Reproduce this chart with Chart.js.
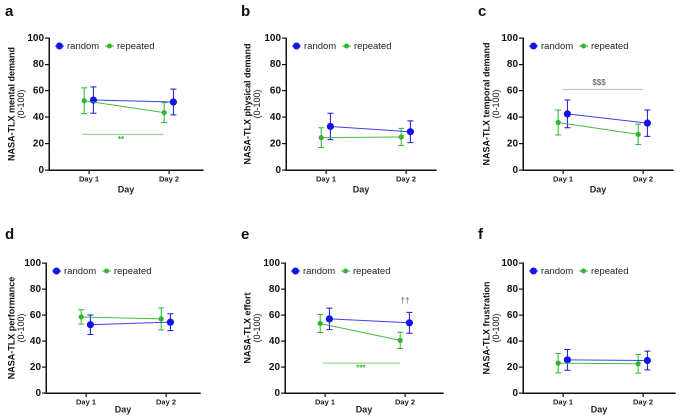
<!DOCTYPE html>
<html>
<head>
<meta charset="utf-8">
<script src="https://cdn.jsdelivr.net/npm/chart.js@4.4.0/dist/chart.umd.min.js"></script>
<style>
  html, body { margin: 0; padding: 0; background: #fff; }
  #wrap { position: relative; width: 685px; height: 420px; overflow: hidden; }
  .panel { position: absolute; }
</style>
</head>
<body>
<div id="wrap"></div>
<script>
// ---- data ----
const days = [1, 2];
const dayLabels = ['Day 1', 'Day 2'];
const groups = ['random', 'repeated'];
const letters = ['a', 'b', 'c', 'd', 'e', 'f'];
const measures = ['NASA-TLX mental demand', 'NASA-TLX physical demand', 'NASA-TLX temporal demand',
  'NASA-TLX performance', 'NASA-TLX effort', 'NASA-TLX frustration'];
const yTicks = [0, 20, 40, 60, 80, 100];

const randomMean = [[53, 51.5], [33, 29], [42.5, 35.5], [52.5, 54.5], [57, 54], [25.5, 25]];
const randomSD = [[10, 9.75], [10, 8.25], [10.5, 10], [7.5, 6.5], [8.25, 8], [8, 7.25]];
const repeatedMean = [[52.5, 43.5], [24.5, 25], [36, 27], [58.5, 57], [53.5, 40.5], [23, 22.5]];
const repeatedSD = [[9.75, 7.5], [7.5, 6.5], [9.5, 7.75], [5.5, 8.5], [7, 6.25], [7.5, 7.25]];

// significance marks: panel, bar span in day units, bar level, label
const sigPanel = [0, 2, 4, 4];
const sigFrom = [0.91, 1.0, 0.97, null];
const sigTo = [1.93, 2.0, 1.94, null];
const sigLevel = [27, 61, 23, null];
const sigText = ['**', '$$$', '***', '\u2020\u2020'];
const sigTextX = [1.4, 1.45, 1.45, 2.0];
const sigTextY = [23, 66, 19, 71];
const sigTone = ['repeated', 'grey', 'repeated', 'grey'];

// ---- look ----
const FONT = '"Liberation Sans", Arial, Helvetica, sans-serif';
const BLUE = '#1414e6';
const GREEN = '#30b530';
const colors = { random: BLUE, repeated: GREEN };
const lineColors = { random: 'rgba(30,30,230,0.85)', repeated: 'rgba(48,181,48,0.9)' };
const toneLine = { repeated: '#93d993', grey: '#c4c4c4' };
const toneText = { repeated: GREEN, grey: '#777' };
const jitter = { random: 0.055, repeated: -0.06 };

const W = 230, H = 210;
const frames = [
  { x: 0,   y: 0,   left: 49, right: 203, top: 38, bottom: 170, dayY: 190, titleX: 12, letterX: 5,  letterY: 16 },
  { x: 228, y: 0,   left: 58, right: 208, top: 38, bottom: 170, dayY: 190, titleX: 20, letterX: 13, letterY: 16 },
  { x: 455, y: 0,   left: 68, right: 218, top: 38, bottom: 170, dayY: 190, titleX: 32, letterX: 23, letterY: 16 },
  { x: 0,   y: 210, left: 46, right: 200, top: 53, bottom: 183, dayY: 200, titleX: 12, letterX: 5,  letterY: 29 },
  { x: 228, y: 210, left: 57, right: 215, top: 53, bottom: 183, dayY: 200, titleX: 20, letterX: 13, letterY: 29 },
  { x: 455, y: 210, left: 68, right: 220, top: 53, bottom: 183, dayY: 200, titleX: 32, letterX: 23, letterY: 29 },
];
const Y_AXIS_W = 26;

function decor(p) {
  return {
    id: 'decor' + p,
    beforeDatasetsDraw(chart) {
      const ctx = chart.ctx;
      const xs = chart.scales.x, ys = chart.scales.y;
      // significance bars
      for (let k = 0; k < sigPanel.length; k++) {
        if (sigPanel[k] !== p) continue;
        ctx.save();
        if (sigFrom[k] !== null) {
          ctx.strokeStyle = toneLine[sigTone[k]];
          ctx.lineWidth = 1.2;
          ctx.beginPath();
          const yy = ys.getPixelForValue(sigLevel[k]);
          ctx.moveTo(xs.getPixelForValue(sigFrom[k]), yy);
          ctx.lineTo(xs.getPixelForValue(sigTo[k]), yy);
          ctx.stroke();
        }
        ctx.fillStyle = toneText[sigTone[k]];
        ctx.font = 'bold 8px ' + FONT;
        ctx.textAlign = 'center';
        ctx.textBaseline = 'middle';
        ctx.fillText(sigText[k], xs.getPixelForValue(sigTextX[k]), ys.getPixelForValue(sigTextY[k]));
        ctx.restore();
      }
      // error bars
      const sets = [[randomMean, randomSD, 'random'], [repeatedMean, repeatedSD, 'repeated']];
      sets.forEach(([means, sds, g]) => {
        ctx.save();
        ctx.strokeStyle = colors[g];
        ctx.lineWidth = 1;
        days.forEach((d, j) => {
          const x = xs.getPixelForValue(d + jitter[g]);
          const lo = ys.getPixelForValue(means[p][j] - sds[p][j]);
          const hi = ys.getPixelForValue(means[p][j] + sds[p][j]);
          ctx.beginPath();
          ctx.moveTo(x, lo); ctx.lineTo(x, hi);
          ctx.moveTo(x - 3, lo); ctx.lineTo(x + 3, lo);
          ctx.moveTo(x - 3, hi); ctx.lineTo(x + 3, hi);
          ctx.stroke();
        });
        ctx.restore();
      });
    },
    afterDraw(chart) {
      const ctx = chart.ctx;
      const f = frames[p];
      const area = chart.chartArea;
      ctx.save();
      // panel letter
      ctx.fillStyle = '#111';
      ctx.font = 'bold 15px ' + FONT;
      ctx.textBaseline = 'alphabetic';
      ctx.fillText(letters[p], f.letterX, f.letterY);
      // y title (two lines)
      ctx.translate(f.titleX, (area.top + area.bottom) / 2);
      ctx.rotate(-Math.PI / 2);
      ctx.textAlign = 'center';
      ctx.textBaseline = 'middle';
      ctx.font = 'bold 9px ' + FONT;
      ctx.fillText(measures[p], 0, 0);
      ctx.font = '9px ' + FONT;
      ctx.fillText('(0-100)', 0, 9.5);
      ctx.restore();
      // legend
      ctx.save();
      const ly = area.top + 8;
      const starts = [area.left + 6, area.left + 56];
      groups.forEach((g, i) => {
        const sx = starts[i];
        ctx.strokeStyle = colors[g];
        ctx.lineWidth = 1;
        ctx.beginPath();
        ctx.moveTo(sx, ly); ctx.lineTo(sx + 9, ly);
        ctx.stroke();
        ctx.fillStyle = colors[g];
        ctx.beginPath();
        ctx.arc(sx + 4.5, ly, g === 'random' ? 3.5 : 2.5, 0, Math.PI * 2);
        ctx.fill();
        ctx.fillStyle = '#222';
        ctx.font = '9.5px ' + FONT;
        ctx.textBaseline = 'middle';
        ctx.fillText(g, sx + 12, ly + 0.5);
      });
      ctx.restore();
    }
  };
}

const wrap = document.getElementById('wrap');
frames.forEach((f, p) => {
  const div = document.createElement('div');
  div.className = 'panel';
  div.style.left = f.x + 'px';
  div.style.top = f.y + 'px';
  const canvas = document.createElement('canvas');
  canvas.width = W; canvas.height = H;
  canvas.style.width = W + 'px'; canvas.style.height = H + 'px';
  div.appendChild(canvas);
  wrap.appendChild(div);

  const xHeight = H - f.bottom;
  const dayPad = H - f.dayY - 5.4;

  const data = {
    datasets: [
      {
        label: 'repeated',
        data: days.map((d, j) => ({ x: d + jitter.repeated, y: repeatedMean[p][j] })),
        borderColor: lineColors.repeated,
        backgroundColor: GREEN,
        borderWidth: 1,
        pointRadius: 2.6,
        pointBorderWidth: 0,
        showLine: true
      },
      {
        label: 'random',
        data: days.map((d, j) => ({ x: d + jitter.random, y: randomMean[p][j] })),
        borderColor: lineColors.random,
        backgroundColor: BLUE,
        borderWidth: 1,
        pointRadius: 3.6,
        pointBorderWidth: 0,
        showLine: true
      }
    ]
  };

  new Chart(canvas, {
    type: 'scatter',
    data: data,
    options: {
      animation: false,
      responsive: false,
      devicePixelRatio: 2,
      layout: { padding: { left: f.left - Y_AXIS_W, right: W - f.right, top: f.top, bottom: 0 } },
      plugins: { legend: { display: false }, tooltip: { enabled: false } },
      scales: {
        x: {
          type: 'linear',
          min: 0.5,
          max: 0.5 + (f.right - f.left) / 80,
          afterBuildTicks: axis => { axis.ticks = days.map(d => ({ value: d })); },
          afterFit: s => { s.height = xHeight; },
          ticks: {
            callback: v => dayLabels[days.indexOf(v)],
            font: { family: FONT, size: 7.5, weight: 'bold' },
            color: '#222',
            padding: 1,
            maxRotation: 0
          },
          grid: { drawOnChartArea: false, drawTicks: true, tickLength: 4, color: '#111', lineWidth: 1.2 },
          border: { color: '#111', width: 1.5 },
          title: {
            display: true, text: 'Day',
            font: { family: FONT, size: 9, weight: 'bold' },
            color: '#222',
            padding: { top: 0, bottom: dayPad }
          }
        },
        y: {
          min: 0, max: 100,
          afterBuildTicks: axis => { axis.ticks = yTicks.map(v => ({ value: v })); },
          afterFit: s => { s.width = Y_AXIS_W; },
          ticks: {
            font: { family: FONT, size: 10, weight: 'bold' },
            color: '#111',
            padding: 1
          },
          grid: { drawOnChartArea: false, drawTicks: true, tickLength: 4, color: '#111', lineWidth: 1.2 },
          border: { color: '#111', width: 1.5 }
        }
      }
    },
    plugins: [decor(p)]
  });
});
</script>
</body>
</html>
